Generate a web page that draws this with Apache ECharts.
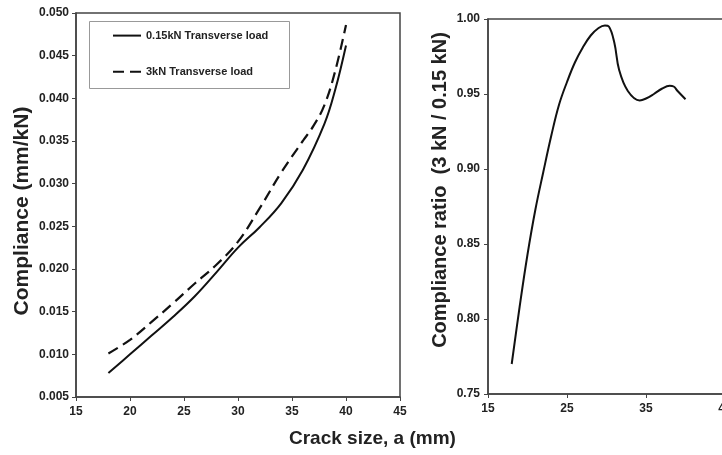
<!DOCTYPE html>
<html>
<head>
<meta charset="utf-8">
<script src="https://cdn.jsdelivr.net/npm/echarts@6/dist/echarts.min.js"></script>
<style>html,body{margin:0;padding:0;background:#fff}#c{width:722px;height:455px}</style>
</head>
<body>
<div id="c"></div>
<script>
// Left panel: compliance vs crack size
const crackSolid = [18, 20, 22, 24, 26, 28, 30, 32, 34, 36, 38, 39, 40];
const compliance015 = [0.0078, 0.0100, 0.0122, 0.0144, 0.0168, 0.0196, 0.0225, 0.0249, 0.0277, 0.0316, 0.0370, 0.0410, 0.0462];
const crackDashed = [18, 20, 22, 24, 26, 28, 30, 32, 34, 36, 37, 38, 39, 40];
const compliance3 = [0.0101, 0.0117, 0.0138, 0.0160, 0.0183, 0.0205, 0.0232, 0.0271, 0.0313, 0.0350, 0.0368, 0.0392, 0.0432, 0.0486];
// Right panel: compliance ratio
const crackRatio = [18, 19, 20, 21, 22, 23, 24, 25, 26, 27, 28, 29, 29.8, 30.3, 31, 31.6, 32.7, 34.2, 35, 36, 37, 38, 38.5, 39, 40];
const ratio = [0.770, 0.808, 0.843, 0.873, 0.898, 0.922, 0.943, 0.958, 0.971, 0.981, 0.989, 0.994, 0.9957, 0.995, 0.984, 0.966, 0.952, 0.9457, 0.947, 0.950, 0.9535, 0.9555, 0.955, 0.952, 0.9465];

const legendNames = ['0.15kN Transverse load', '3kN Transverse load'];
const xTitle = 'Crack size, a (mm)';
const yTitleLeft = 'Compliance (mm/kN)';
const yTitleRight = 'Compliance ratio  (3 kN / 0.15 kN)';

const zip = (xs, ys) => xs.map((x, i) => [x, ys[i]]);

const FONT = '"Liberation Sans", Arial, sans-serif';
const axisCol = '#444';
const lblStyle = { color: '#222', fontFamily: FONT, fontWeight: 'bold', fontSize: 12 };

const chart = echarts.init(document.getElementById('c'));
chart.setOption({
  animation: false,
  backgroundColor: '#fff',
  grid: [
    { left: 76, top: 13, right: 322, bottom: 58, show: true, borderColor: axisCol, borderWidth: 1.5, backgroundColor: 'transparent', outerBoundsMode: 'none', containLabel: false },
    { left: 488, top: 19, right: -3, bottom: 61, show: true, borderColor: axisCol, borderWidth: 1.5, backgroundColor: 'transparent', outerBoundsMode: 'none', containLabel: false }
  ],
  xAxis: [
    { gridIndex: 0, type: 'value', min: 15, max: 45, interval: 5,
      axisLine: { lineStyle: { color: axisCol, width: 1.5 } },
      axisTick: { show: true, length: 4, lineStyle: { color: axisCol } },
      axisLabel: Object.assign({ margin: 9 }, lblStyle), splitLine: { show: false } },
    { gridIndex: 1, type: 'value', min: 15, max: 45, interval: 10,
      axisLine: { lineStyle: { color: axisCol, width: 1.5 } },
      axisTick: { show: true, length: 4, lineStyle: { color: axisCol } },
      axisLabel: Object.assign({ margin: 9 }, lblStyle), splitLine: { show: false } }
  ],
  yAxis: [
    { gridIndex: 0, type: 'value', min: 0.005, max: 0.05, interval: 0.005,
      axisLine: { show: true, lineStyle: { color: axisCol, width: 1.5 } },
      axisTick: { show: true, length: 4, lineStyle: { color: axisCol } },
      axisLabel: Object.assign({ margin: 7, formatter: v => v.toFixed(3) }, lblStyle), splitLine: { show: false } },
    { gridIndex: 1, type: 'value', min: 0.75, max: 1.0, interval: 0.05,
      axisLine: { show: true, lineStyle: { color: axisCol, width: 1.5 } },
      axisTick: { show: true, length: 4, lineStyle: { color: axisCol } },
      axisLabel: Object.assign({ margin: 8, formatter: v => v.toFixed(2) }, lblStyle), splitLine: { show: false } }
  ],
  legend: {
    left: 112, top: 30, orient: 'vertical', itemWidth: 28, itemHeight: 14, itemGap: 25,
    padding: 0,
    itemStyle: { opacity: 0 },
    textStyle: { color: '#222', fontFamily: FONT, fontWeight: 'bold', fontSize: 11 },
    data: legendNames
  },
  graphic: [
    { type: 'rect', left: 89, top: 21, z: 0, shape: { width: 200, height: 67 },
      style: { fill: '#fff', stroke: '#999', lineWidth: 1 } },
    { type: 'text', left: 289, top: 429, style: { text: xTitle, font: 'bold 19px ' + FONT, fill: '#222' } },
    { type: 'text', x: 22, y: 211, rotation: Math.PI / 2,
      style: { text: yTitleLeft, font: 'bold 21px ' + FONT, fill: '#222', align: 'center', verticalAlign: 'middle' } },
    { type: 'text', x: 440, y: 190, rotation: Math.PI / 2,
      style: { text: yTitleRight, font: 'bold 20px ' + FONT, fill: '#222', align: 'center', verticalAlign: 'middle' } }
  ],
  series: [
    { name: legendNames[0], type: 'line', xAxisIndex: 0, yAxisIndex: 0, smooth: 0.4, symbol: 'none', showSymbol: false,
      lineStyle: { color: '#111', width: 2 }, itemStyle: { color: '#111' },
      data: zip(crackSolid, compliance015) },
    { name: legendNames[1], type: 'line', xAxisIndex: 0, yAxisIndex: 0, smooth: 0.4, symbol: 'none', showSymbol: false,
      lineStyle: { color: '#111', width: 2.2, type: [11, 6] }, itemStyle: { color: '#111' },
      data: zip(crackDashed, compliance3) },
    { name: 'ratio', type: 'line', xAxisIndex: 1, yAxisIndex: 1, smooth: 0.4, symbol: 'none',
      lineStyle: { color: '#111', width: 2 }, itemStyle: { color: '#111' },
      data: zip(crackRatio, ratio) }
  ]
});
</script>
</body>
</html>
